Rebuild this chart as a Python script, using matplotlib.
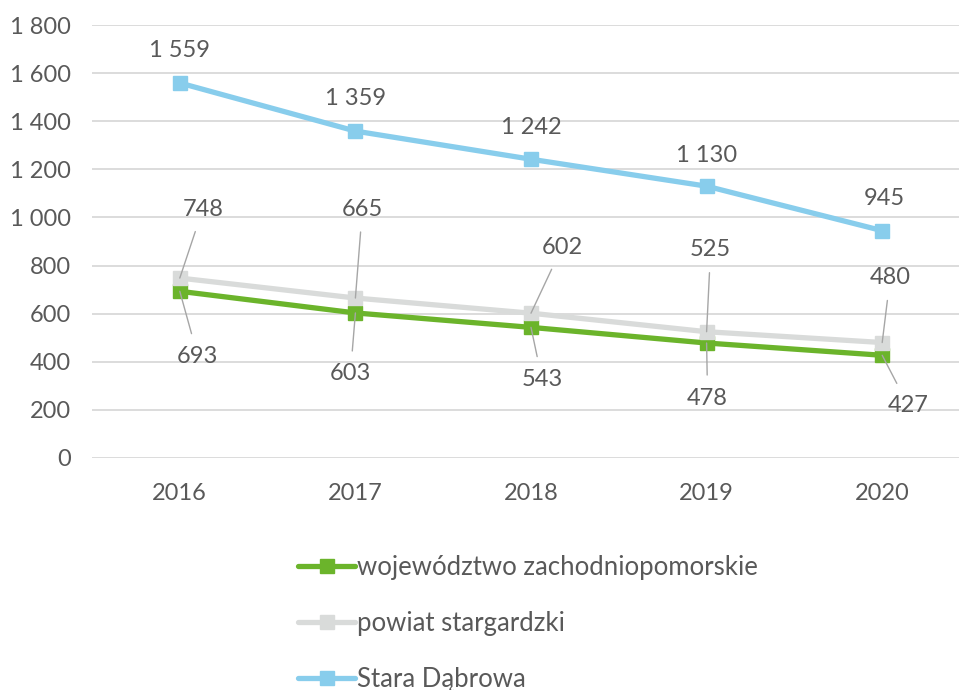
import matplotlib
matplotlib.use("Agg")
import matplotlib.pyplot as plt

plt.rcParams['font.family'] = ['Lato', 'DejaVu Sans']

years = ["2016", "2017", "2018", "2019", "2020"]
woj = [693, 603, 543, 478, 427]
powiat = [748, 665, 602, 525, 480]
stara = [1559, 1359, 1242, 1130, 945]

series_names = ["województwo zachodniopomorskie", "powiat stargardzki", "Stara Dąbrowa"]
colors = ["#6BB42B", "#D9DBDA", "#88CDEC"]

# label offsets in pixels (dx, dy) from each marker
woj_off = [(18, -65), (-5, -61), (11, -52), (1, -55), (26, -50)]
powiat_off = [(23, 69), (7, 89), (31, 66), (4, 82), (8, 65)]
stara_off = [(0, 32), (0, 33), (0, 32), (0, 31), (2, 32)]

text_col = "#595959"
fs = 17

def fmt(v):
    return f"{v:,}".replace(",", " ")

fig = plt.figure(figsize=(9.59, 6.9), dpi=100)
ax = fig.add_axes([92 / 959, 1 - 458 / 690, 878 / 959, 433 / 690])

x = range(len(years))
data = [woj, powiat, stara]
offs = [woj_off, powiat_off, stara_off]
for vals, name, c in zip(data, series_names, colors):
    ax.plot(x, vals, color=c, lw=3.8, marker="s", ms=10, label=name,
            solid_capstyle="round", zorder=3)

for vals, off, leader in zip(data, offs, [True, True, False]):
    for i, v in enumerate(vals):
        ax.annotate(fmt(v), (i, v), xytext=off[i], textcoords="offset pixels",
                    ha="center", va="center", fontsize=fs, color=text_col,
                    arrowprops=dict(arrowstyle="-", color="#A6A6A6", lw=1,
                                    shrinkA=7, shrinkB=0) if leader else None,
                    zorder=4)

ax.set_xlim(-0.5, 4.5)
ax.set_ylim(0, 1800)
ax.set_yticks(range(0, 1801, 200))
ax.set_yticklabels([fmt(v) for v in range(0, 1801, 200)])
ax.set_xticks(list(x))
ax.set_xticklabels(years)
ax.tick_params(length=0, labelsize=fs, colors=text_col, pad=15)
ax.tick_params(axis="x", pad=18)
ax.grid(axis="y", color="#D9D9D9", lw=1.3)
ax.set_axisbelow(True)
for s in ax.spines.values():
    s.set_visible(False)

fig.legend(loc="upper left", bbox_to_anchor=(288 / 959, 1 - 545 / 690),
           frameon=False, fontsize=18.5, labelcolor=text_col,
           handlelength=2.2, handletextpad=0.1, labelspacing=1.2,
           borderaxespad=0)

fig.savefig("out.png", dpi=100)
